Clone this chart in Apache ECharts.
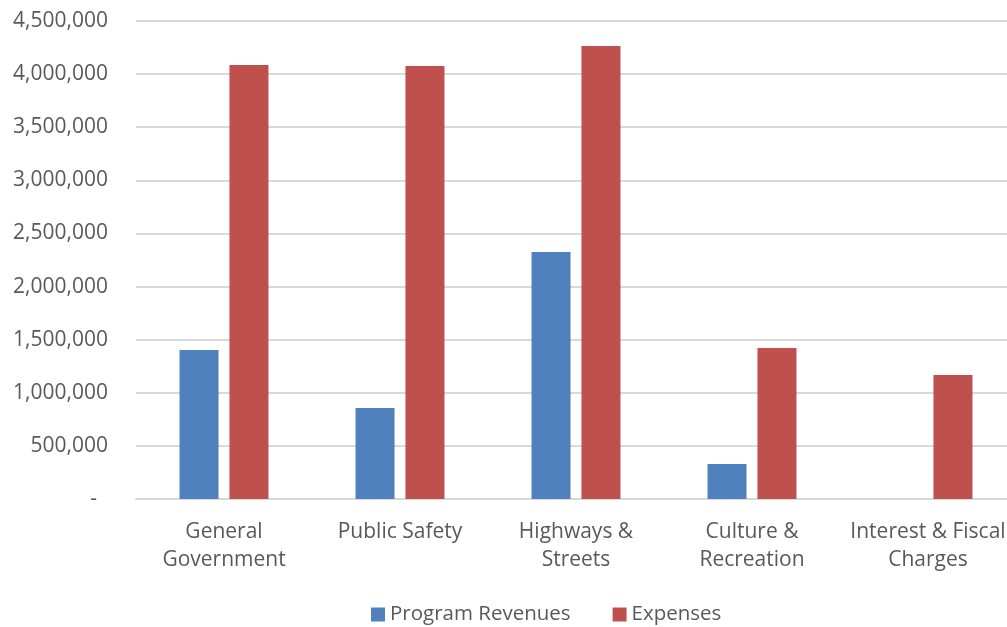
<!DOCTYPE html>
<html>
<head>
<meta charset="utf-8">
<script src="https://cdn.jsdelivr.net/npm/echarts@6/dist/echarts.min.js"></script>
<style>
html,body{margin:0;padding:0;background:#fff;}
#chart{width:1007px;height:627px;}
</style>
</head>
<body>
<div id="chart"></div>
<script>
const categories = ['General\nGovernment', 'Public Safety', 'Highways &\nStreets', 'Culture &\nRecreation', 'Interest & Fiscal\nCharges'];
const programRevenues = [1403000, 857000, 2325000, 330000, 0];
const expenses = [4086000, 4076000, 4265000, 1421000, 1167000];
const yTicks = { min: 0, max: 4500000, interval: 500000 };

const chart = echarts.init(document.getElementById('chart'));
const font = "'Open Sans', 'Noto Sans', sans-serif";
chart.setOption({
  animation: false,
  textStyle: { fontFamily: font },
  grid: { left: 136, width: 880, top: 21, height: 478, containLabel: false, outerBoundsMode: 'none' },
  legend: {
    top: 599,
    left: 366,
    icon: 'rect',
    itemWidth: 14,
    itemHeight: 14,
    itemGap: 42,
    textStyle: { fontFamily: font, fontSize: 20.5, color: '#595959' },
    data: ['Program Revenues', 'Expenses']
  },
  xAxis: {
    type: 'category',
    data: categories,
    axisLine: { lineStyle: { color: '#d9d9d9', width: 2 } },
    axisTick: { show: false },
    axisLabel: { color: '#595959', fontSize: 21, lineHeight: 28, margin: 19, interval: 0, fontFamily: font }
  },
  yAxis: {
    type: 'value',
    min: yTicks.min,
    max: yTicks.max,
    interval: yTicks.interval,
    axisLine: { show: false },
    axisTick: { show: false },
    splitLine: { lineStyle: { color: '#d9d9d9', width: 2 } },
    axisLabel: {
      color: '#595959', fontSize: 21, margin: 28, fontFamily: font,
      formatter: function (v) {
        if (v === 0) return '{d|-}';
        return v.toLocaleString('en-US');
      },
      rich: { d: { color: '#595959', fontSize: 21, fontFamily: font, padding: [0, 11, 0, 0] } }
    }
  },
  series: [
    {
      name: 'Program Revenues', type: 'bar', data: programRevenues,
      barWidth: 39, barGap: '28%',
      itemStyle: { color: '#4F81BD' }
    },
    {
      name: 'Expenses', type: 'bar', data: expenses,
      barWidth: 39,
      itemStyle: { color: '#C0504D' }
    }
  ]
});
</script>
</body>
</html>
